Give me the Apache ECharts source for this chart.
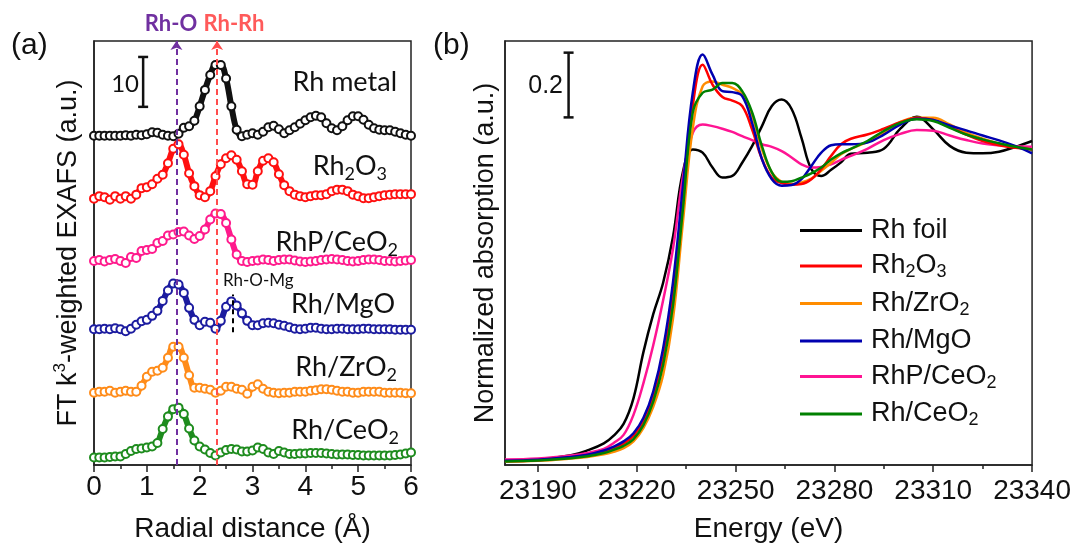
<!DOCTYPE html>
<html><head><meta charset="utf-8">
<script src="https://cdn.jsdelivr.net/npm/echarts@6/dist/echarts.min.js"></script>
<style>html,body{margin:0;padding:0;background:#fff}#c{width:1074px;height:548px}</style>
</head><body><div id="c"></div>
<script>
// ---------- (a) EXAFS data (stacked values as plotted) ----------
const radialDistance = [0.0,0.1,0.2,0.3,0.4,0.5,0.6,0.7,0.8,0.9,1.0,1.1,1.2,1.3,1.4,1.5,1.6,1.7,1.8,1.9,2.0,2.1,2.2,2.3,2.4,2.5,2.6,2.7,2.8,2.9,3.0,3.1,3.2,3.3,3.4,3.5,3.6,3.7,3.8,3.9,4.0,4.1,4.2,4.3,4.4,4.5,4.6,4.7,4.8,4.9,5.0,5.1,5.2,5.3,5.4,5.5,5.6,5.7,5.8,5.9,6.0];
const exafsRhMetal = [66.0,66.0,66.0,66.0,66.0,66.0,66.1,66.0,66.2,66.1,66.3,66.7,66.6,66.2,66.0,65.9,66.4,67.6,67.9,69.0,71.9,75.2,78.2,80.2,80.2,77.5,71.9,67.2,65.9,66.2,66.5,66.2,66.8,67.7,68.0,67.3,66.5,67.1,67.7,68.4,69.1,69.7,70.0,69.7,68.5,67.5,67.1,67.9,69.1,69.9,69.9,69.2,68.2,67.5,67.2,67.1,67.1,66.8,66.5,66.2,66.0];
const exafsRh2O3 = [53.4,53.9,53.7,53.2,53.9,53.4,53.9,53.4,54.2,55.5,55.7,56.3,57.4,58.2,60.5,63.4,64.3,62.2,58.5,55.9,54.1,53.7,54.9,57.9,60.3,61.5,62.1,61.2,58.9,56.3,56.2,58.9,61.0,61.5,60.7,58.3,56.1,54.9,54.2,53.9,53.7,53.9,54.1,54.1,54.3,54.9,55.2,55.2,54.9,54.2,53.9,53.5,53.5,53.7,53.9,54.1,54.2,54.3,54.3,54.3,54.3];
const exafsRhPCeO2 = [40.9,41.1,40.8,41.1,41.3,40.9,40.5,41.7,41.5,42.9,43.1,43.3,44.5,44.9,46.0,46.2,46.7,46.8,46.0,45.3,45.9,47.2,49.2,50.4,50.3,48.5,45.2,42.2,40.9,40.7,40.9,41.0,41.2,41.1,40.9,41.1,41.2,41.2,41.0,40.8,40.7,40.8,40.9,41.1,41.2,41.3,41.2,41.1,40.9,40.8,40.9,41.1,41.2,41.2,41.1,40.9,40.9,40.8,40.9,41.0,41.1];
const exafsRhMgO = [27.2,27.2,27.3,27.2,27.4,27.2,26.8,27.3,28.1,28.8,29.1,29.9,30.9,32.9,35.0,36.4,36.2,34.5,31.5,29.1,28.0,28.7,28.5,27.3,28.9,31.7,32.8,32.0,30.4,28.9,28.0,28.0,28.4,28.5,28.4,28.1,27.9,27.6,27.3,27.2,27.3,27.5,27.5,27.3,27.2,27.2,27.3,27.3,27.2,27.2,27.2,27.3,27.3,27.2,27.2,27.2,27.2,27.1,27.1,27.1,27.1];
const exafsRhZrO2 = [14.5,14.7,14.7,14.9,14.5,14.7,14.9,14.7,14.7,15.9,17.7,18.7,18.9,19.5,21.5,23.7,23.7,21.5,18.0,15.5,15.5,15.3,15.1,14.5,14.9,15.7,15.7,15.3,15.1,14.3,15.7,16.2,15.3,14.7,14.5,14.4,14.5,14.5,14.7,14.7,14.7,14.9,15.0,15.2,15.2,15.1,14.9,14.7,14.7,14.5,14.5,14.7,14.7,14.7,14.7,14.5,14.5,14.5,14.5,14.4,14.4];
const exafsRhCeO2 = [1.5,1.5,1.5,1.6,1.7,1.7,2.2,2.8,3.2,3.3,3.5,3.7,4.4,7.2,9.7,11.2,11.5,10.2,7.3,4.9,3.7,3.1,2.4,1.9,2.5,3.0,3.2,3.1,2.7,2.7,2.9,3.5,3.2,2.5,2.2,2.8,2.5,2.2,2.2,2.3,2.3,2.4,2.4,2.4,2.3,2.2,2.1,2.1,2.1,2.0,2.0,1.9,1.9,1.9,1.9,1.9,1.9,2.0,2.1,2.3,2.5];
const radialTicks = [0,1,2,3,4,5,6];
const bondRhO = 1.56;      // Rh-O reference line (Å)
const bondRhRh = 2.335;    // Rh-Rh reference line (Å)
const bondRhOMg = [2.62, 26.6, 34.2]; // Rh-O-Mg marker: x, y from, y to
const scaleBarEXAFS = [0.93, 71.8, 10]; // x, y start, length

// ---------- (b) XANES data ----------
const energy = [23180,23190,23200,23205,23210,23213,23216,23219,23222,23225,23228,23231,23234,23237,23240,23243,23246,23249,23252,23255,23258,23261,23264,23267,23270,23273,23276,23279,23282,23285,23290,23295,23300,23305,23310,23315,23320,23325,23330,23335,23340];
const xanesRhFoil = [0.014,0.017,0.030,0.045,0.067,0.091,0.127,0.206,0.348,0.466,0.563,0.705,0.905,0.975,0.965,0.919,0.888,0.893,0.934,0.985,1.047,1.109,1.129,1.100,1.011,0.914,0.893,0.912,0.935,0.962,0.965,0.977,1.039,1.076,1.037,0.986,0.965,0.963,0.968,0.983,1.001];
const xanesRh2O3 = [0.012,0.015,0.024,0.031,0.042,0.052,0.066,0.090,0.135,0.211,0.329,0.524,0.830,1.110,1.237,1.175,1.137,1.126,1.109,1.037,0.945,0.888,0.871,0.866,0.868,0.883,0.914,0.955,0.991,1.008,1.021,1.039,1.059,1.072,1.066,1.045,1.021,1.001,0.988,0.980,0.975];
const xanesRhZrO2 = [0.010,0.013,0.020,0.025,0.033,0.041,0.052,0.073,0.114,0.180,0.278,0.452,0.750,1.040,1.170,1.185,1.175,1.165,1.145,1.080,0.975,0.904,0.875,0.868,0.873,0.885,0.909,0.934,0.960,0.977,0.998,1.027,1.060,1.073,1.073,1.052,1.027,1.008,0.993,0.982,0.975];
const xanesRhMgO = [0.013,0.016,0.025,0.032,0.045,0.057,0.073,0.098,0.145,0.227,0.360,0.565,0.860,1.150,1.268,1.206,1.155,1.152,1.140,1.057,0.945,0.883,0.863,0.865,0.883,0.924,0.965,0.988,0.991,0.991,0.996,1.021,1.052,1.070,1.066,1.049,1.034,1.018,1.003,0.985,0.963];
const xanesRhPCeO2 = [0.017,0.020,0.029,0.037,0.050,0.068,0.093,0.155,0.252,0.370,0.509,0.668,0.890,1.026,1.052,1.047,1.039,1.029,1.016,1.004,0.991,0.983,0.970,0.950,0.929,0.919,0.921,0.929,0.943,0.955,0.977,1.004,1.023,1.035,1.033,1.018,1.004,0.993,0.988,0.985,0.983];
const xanesRhCeO2 = [0.011,0.014,0.021,0.027,0.037,0.047,0.059,0.080,0.123,0.196,0.309,0.493,0.790,1.090,1.150,1.160,1.180,1.180,1.155,1.090,0.985,0.904,0.875,0.877,0.888,0.901,0.919,0.944,0.963,0.977,1.001,1.032,1.057,1.068,1.063,1.042,1.021,1.006,0.994,0.983,0.975];
const energyTicks = [23190,23220,23250,23280,23310,23340];
const energyMinorTicks = [23205,23235,23265,23295,23325];
const scaleBarXANES = [23199.3, 1.074, 0.2];

const legendNames = ['Rh foil','Rh2O3','Rh/ZrO2','Rh/MgO','RhP/CeO2','Rh/CeO2'];
const legendRich = {
  'Rh foil':'{n|Rh foil}',
  'Rh2O3':'{n|Rh}{s|2}{n|O}{s|3}',
  'Rh/ZrO2':'{n|Rh/ZrO}{s|2}',
  'Rh/MgO':'{n|Rh/MgO}',
  'RhP/CeO2':'{n|RhP/CeO}{s|2}',
  'Rh/CeO2':'{n|Rh/CeO}{s|2}'
};

// ---------- styling ----------
const SANS = '"Liberation Sans", Arial, sans-serif';
const CAL = 'Lato, "Liberation Sans", sans-serif';
const INK = '#111';
const AX = {color:'#222', width:1.5};

function exafsSeries(name, vals, color, extra) {
  return Object.assign({
    name, type:'line', xAxisIndex:0, yAxisIndex:0,
    data: radialDistance.map((x,i)=>[x, vals[i]]),
    smooth: 0.35, symbol:'emptyCircle', symbolSize:8, showSymbol:true, showAllSymbol:true,
    lineStyle:{color, width:6}, itemStyle:{color, borderColor:color, borderWidth:2},
    silent:true, animation:false
  }, extra || {});
}
function xanesSeries(name, vals, color) {
  return {
    name, type:'line', xAxisIndex:1, yAxisIndex:1,
    data: energy.map((x,i)=>[x, vals[i]]),
    smooth: 0.4, symbol:'none', showSymbol:false,
    lineStyle:{color, width:2.5}, itemStyle:{color},
    silent:true, animation:false
  };
}
function scaleBarSeries(xi, yi, bar) {
  return {
    type:'custom', xAxisIndex:xi, yAxisIndex:yi, silent:true, animation:false,
    data:[bar],
    renderItem(params, api){
      const x=api.value(0), y0=api.value(1), y1=y0+api.value(2);
      const a=api.coord([x,y0]), b=api.coord([x,y1]); const h=5;
      const st={stroke:INK, lineWidth:2.5};
      return {type:'group', children:[
        {type:'line', shape:{x1:a[0],y1:a[1],x2:b[0],y2:b[1]}, style:st},
        {type:'line', shape:{x1:a[0]-h,y1:a[1],x2:a[0]+h,y2:a[1]}, style:st},
        {type:'line', shape:{x1:b[0]-h,y1:b[1],x2:b[0]+h,y2:b[1]}, style:st}
      ]};
    }
  };
}

const labRich = {
  n:{fontSize:27, fontFamily:CAL, lineHeight:34, fill:INK},
  s:{fontSize:18, fontFamily:CAL, lineHeight:12, verticalAlign:'bottom', fill:INK}
};
function label(x, y, text) {
  return {type:'text', x, y, silent:true, style:{text, rich:labRich, align:'right', verticalAlign:'middle', fill:INK, font:'27px '+CAL}};
}

const option = {
  animation:false,
  backgroundColor:'#fff',
  grid:[
    {left:94, top:41, width:317, height:425, show:true, borderColor:'#222', borderWidth:1.5, backgroundColor:'transparent'},
    {left:505, top:41, width:530, height:426, show:true, borderColor:'#222', borderWidth:1.5, backgroundColor:'transparent'}
  ],
  xAxis:[
    {type:'value', gridIndex:0, min:0, max:6, interval:1,
     axisLine:{show:true, onZero:false, lineStyle:AX},
     axisTick:{show:true, length:7, lineStyle:AX},
     minorTick:{show:true, splitNumber:2, length:4, lineStyle:AX},
     splitLine:{show:false}, minorSplitLine:{show:false},
     axisLabel:{fontSize:28, fontFamily:SANS, color:INK, margin:8,
       customValues: radialTicks},
     name:'Radial distance (Å)', nameLocation:'middle', nameGap:50,
     nameTextStyle:{fontSize:28, fontFamily:SANS, color:INK}},
    {type:'value', gridIndex:1, min:23180, max:23340, position:'bottom',
     axisLine:{show:true, onZero:false, lineStyle:AX},
     axisTick:{show:true, length:7, lineStyle:AX, customValues: energyTicks},
     splitLine:{show:false},
     axisLabel:{fontSize:28, fontFamily:SANS, color:INK, margin:12, customValues: energyTicks, formatter:v=>String(v)},
     name:'Energy (eV)', nameLocation:'middle', nameGap:50,
     nameTextStyle:{fontSize:28, fontFamily:SANS, color:INK}},
    {type:'value', gridIndex:1, min:23180, max:23340, position:'bottom',
     axisLine:{show:false},
     axisTick:{show:true, length:4, lineStyle:AX, customValues: energyMinorTicks},
     axisLabel:{show:false}, splitLine:{show:false}}
  ],
  yAxis:[
    {type:'value', gridIndex:0, min:0, max:85,
     axisLine:{show:true, onZero:false, lineStyle:AX}, axisTick:{show:false}, axisLabel:{show:false}, splitLine:{show:false},
     name:'{n|FT k}{sup|3}{n|-weighted EXAFS (a.u.)}', nameLocation:'middle', nameRotate:90, nameGap:8,
     nameTextStyle:{fontSize:27, fontFamily:SANS, color:INK, rich:{
       n:{fontSize:27, fontFamily:SANS, color:INK, lineHeight:34},
       sup:{fontSize:17, fontFamily:SANS, color:INK, lineHeight:16, verticalAlign:'top'}}}},
    {type:'value', gridIndex:1, min:0, max:1.31,
     axisLine:{show:true, onZero:false, lineStyle:AX}, axisTick:{show:false}, axisLabel:{show:false}, splitLine:{show:false},
     name:'Normalized absorption (a.u.)', nameLocation:'middle', nameRotate:90, nameGap:6,
     nameTextStyle:{fontSize:27, fontFamily:SANS, color:INK}}
  ],
  legend:{
    data:legendNames, orient:'vertical', left:795, top:212,
    itemWidth:62, itemHeight:3, itemGap:8.5, icon:'rect', selectedMode:false,
    formatter:n=>legendRich[n],
    textStyle:{fontSize:27, fontFamily:SANS, color:INK, padding:[0,0,0,4], rich:{
      n:{fontSize:27, fontFamily:SANS, color:INK, lineHeight:31},
      s:{fontSize:18, fontFamily:SANS, color:INK, lineHeight:10, verticalAlign:'bottom'}}}
  },
  series:[
    exafsSeries('EXAFS Rh/CeO2', exafsRhCeO2, '#1e8c1e', {
      markLine:{silent:true, animation:false, symbol:['none','arrow'], symbolSize:9, label:{show:false},
        data:[
          {xAxis:bondRhO, lineStyle:{color:'#7030a0', type:[6,4], width:2}, itemStyle:{color:'#7030a0'}},
          {xAxis:bondRhRh, lineStyle:{color:'#ff4d4d', type:[6,4], width:2}, itemStyle:{color:'#ff4d4d'}}
        ]}
    }),
    exafsSeries('EXAFS Rh/ZrO2', exafsRhZrO2, '#ff8c1a'),
    exafsSeries('EXAFS Rh/MgO', exafsRhMgO, '#1c1ca0', {
      markLine:{silent:true, animation:false, symbol:['none','none'], label:{show:false},
        lineStyle:{color:'#000', type:[5,4], width:2},
        data:[[{coord:[bondRhOMg[0], bondRhOMg[1]]},{coord:[bondRhOMg[0], bondRhOMg[2]]}]]}
    }),
    exafsSeries('EXAFS RhP/CeO2', exafsRhPCeO2, '#ff1a8c'),
    exafsSeries('EXAFS Rh2O3', exafsRh2O3, '#ff1010'),
    exafsSeries('EXAFS Rh metal', exafsRhMetal, '#111111'),
    scaleBarSeries(0,0,scaleBarEXAFS),
    xanesSeries('Rh foil', xanesRhFoil, '#000000'),
    xanesSeries('RhP/CeO2', xanesRhPCeO2, '#ff1493'),
    xanesSeries('Rh/ZrO2', xanesRhZrO2, '#ff8c00'),
    xanesSeries('Rh2O3', xanesRh2O3, '#ff0000'),
    xanesSeries('Rh/MgO', xanesRhMgO, '#0000b0'),
    xanesSeries('Rh/CeO2', xanesRhCeO2, '#008000'),
    scaleBarSeries(1,1,scaleBarXANES)
  ],
  graphic:[
    {type:'text', x:11, y:46, silent:true, style:{text:'(a)', font:'30px '+SANS, fill:INK, align:'left', verticalAlign:'middle'}},
    {type:'text', x:433, y:46, silent:true, style:{text:'(b)', font:'30px '+SANS, fill:INK, align:'left', verticalAlign:'middle'}},
    {type:'text', x:171, y:24, silent:true, style:{text:'Rh-O', font:'bold 22px '+CAL, fill:'#7030a0', align:'center', verticalAlign:'middle'}},
    {type:'text', x:234, y:24, silent:true, style:{text:'Rh-Rh', font:'bold 22px '+CAL, fill:'#ff5a5a', align:'center', verticalAlign:'middle'}},
    {type:'text', x:139, y:84, silent:true, style:{text:'10', font:'24px '+CAL, fill:INK, align:'right', verticalAlign:'middle'}},
    {type:'text', x:563, y:86, silent:true, style:{text:'0.2', font:'25px '+SANS, fill:INK, align:'right', verticalAlign:'middle'}},
    {type:'text', x:223, y:281, silent:true, style:{text:'Rh-O-Mg', font:'17px '+CAL, fill:INK, align:'left', verticalAlign:'middle'}},
    label(397, 82, '{n|Rh metal}'),
    label(387, 166, '{n|Rh}{s|2}{n|O}{s|3}'),
    label(398, 242, '{n|RhP/CeO}{s|2}'),
    label(395, 304, '{n|Rh/MgO}'),
    label(397, 367, '{n|Rh/ZrO}{s|2}'),
    label(399, 430, '{n|Rh/CeO}{s|2}')
  ]
};
const chart = echarts.init(document.getElementById('c'));
chart.setOption(option);
</script></body></html>
